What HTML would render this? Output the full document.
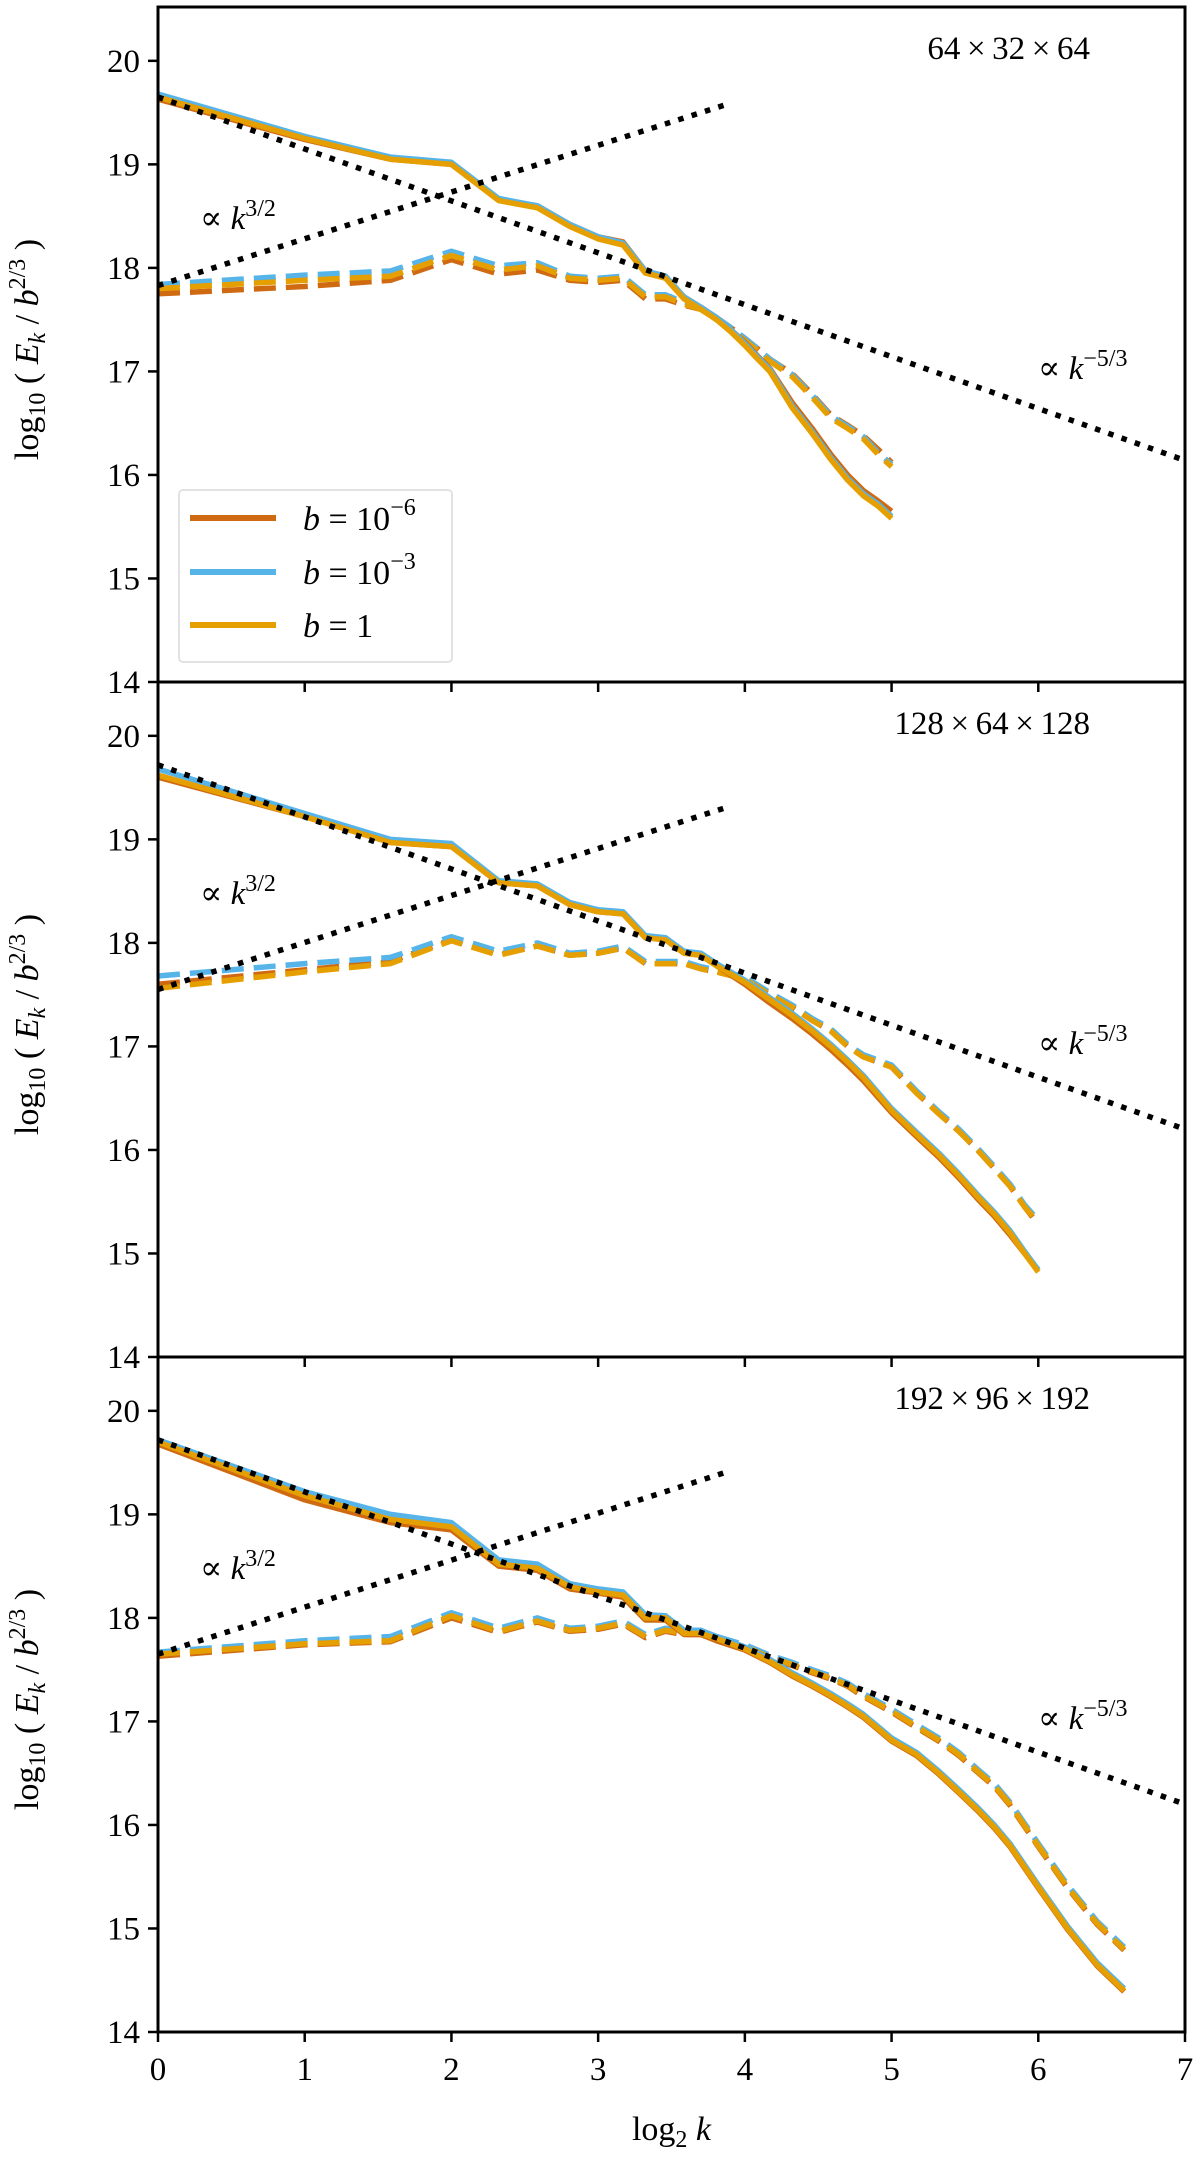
<!DOCTYPE html>
<html><head><meta charset="utf-8"><style>
html,body{margin:0;padding:0;background:#fff;}
svg{display:block;font-family:"Liberation Serif","DejaVu Serif",serif;}
</style></head><body>
<svg id="chart" width="1200" height="2160" viewBox="0 0 1200 2160" xmlns="http://www.w3.org/2000/svg">
<g id="root"></g>
</svg>
<script>
const NS='http://www.w3.org/2000/svg';
// ---- data ----
const panelTitles=['64\u2009\u00d7\u200932\u2009\u00d7\u200964','128\u2009\u00d7\u200964\u2009\u00d7\u2009128','192\u2009\u00d7\u200996\u2009\u00d7\u2009192'];
const xTicks=[0,1,2,3,4,5,6,7];
const yTicks=[14,15,16,17,18,19,20];
const legendLabels=['10\u207b\u2076','10\u207b\u00b3','1'];
// panel 1
const x1=[0,1,1.585,2,2.322,2.585,2.807,3,3.17,3.322,3.459,3.585,3.7,3.807,3.907,4,4.087,4.17,4.322,4.459,4.585,4.7,4.807,4.907,5];
const s1_o=[19.65,19.25,19.05,19.0,18.65,18.58,18.4,18.28,18.22,17.95,17.9,17.7,17.6,17.5,17.38,17.25,17.12,17.0,16.65,16.4,16.15,15.95,15.8,15.7,15.58];
const s1_b=[19.68,19.27,19.07,19.02,18.67,18.6,18.42,18.3,18.24,17.97,17.92,17.72,17.62,17.52,17.4,17.27,17.14,17.02,16.67,16.42,16.17,15.97,15.82,15.72,15.6];
const s1_r=[19.63,19.24,19.05,19.0,18.66,18.6,18.42,18.3,18.25,17.97,17.92,17.72,17.62,17.52,17.4,17.28,17.15,17.03,16.7,16.45,16.2,16.0,15.85,15.75,15.65];
const d1_o=[17.8,17.88,17.92,18.12,17.98,18.02,17.9,17.88,17.9,17.72,17.72,17.65,17.6,17.5,17.4,17.3,17.2,17.1,16.95,16.75,16.55,16.45,16.35,16.2,16.08];
const d1_b=[17.84,17.93,17.97,18.16,18.02,18.05,17.92,17.9,17.92,17.74,17.74,17.67,17.62,17.52,17.42,17.32,17.22,17.12,16.97,16.77,16.57,16.47,16.37,16.22,16.1];
const d1_r=[17.75,17.82,17.88,18.08,17.94,17.98,17.88,17.86,17.88,17.7,17.7,17.64,17.6,17.52,17.42,17.32,17.22,17.12,16.98,16.78,16.58,16.48,16.38,16.25,16.12];
// panel 2
const x2=[0,1,1.585,2,2.322,2.585,2.807,3,3.17,3.322,3.459,3.585,3.7,3.807,4,4.17,4.322,4.459,4.585,4.7,4.807,5,5.17,5.322,5.459,5.585,5.7,5.807,5.907,6];
const s2_o=[19.62,19.22,18.97,18.93,18.58,18.55,18.37,18.3,18.28,18.05,18.03,17.9,17.88,17.78,17.62,17.45,17.3,17.15,17.0,16.85,16.7,16.38,16.15,15.95,15.75,15.55,15.38,15.2,15.0,14.82];
const s2_b=[19.68,19.25,19.0,18.96,18.6,18.57,18.39,18.32,18.3,18.07,18.05,17.92,17.9,17.8,17.64,17.47,17.32,17.17,17.02,16.87,16.72,16.4,16.17,15.97,15.77,15.57,15.4,15.22,15.02,14.84];
const s2_r=[19.6,19.22,18.97,18.93,18.58,18.55,18.37,18.3,18.28,18.05,18.03,17.9,17.88,17.78,17.6,17.42,17.27,17.12,16.97,16.82,16.67,16.36,16.13,15.93,15.73,15.53,15.36,15.18,15.0,14.84];
const d2_o=[17.56,17.72,17.8,18.02,17.88,17.97,17.88,17.9,17.95,17.8,17.8,17.8,17.75,17.72,17.65,17.5,17.38,17.25,17.15,17.0,16.9,16.8,16.55,16.35,16.18,16.0,15.82,15.65,15.45,15.3];
const d2_b=[17.68,17.8,17.86,18.06,17.92,18.0,17.9,17.92,17.97,17.82,17.82,17.82,17.77,17.74,17.67,17.52,17.4,17.27,17.17,17.02,16.92,16.82,16.57,16.37,16.2,16.02,15.84,15.67,15.47,15.32];
const d2_r=[17.6,17.74,17.82,18.03,17.89,17.97,17.88,17.9,17.95,17.8,17.8,17.8,17.75,17.72,17.65,17.5,17.38,17.25,17.15,17.0,16.9,16.8,16.55,16.35,16.18,16.0,15.82,15.65,15.45,15.28];
// panel 3
const x3=[0,1,1.585,2,2.322,2.585,2.807,3,3.17,3.322,3.459,3.585,3.7,3.807,4,4.17,4.322,4.459,4.585,4.7,4.807,5,5.17,5.322,5.459,5.585,5.7,5.807,6,6.2,6.4,6.585];
const s3_o=[19.7,19.18,18.95,18.88,18.52,18.48,18.3,18.25,18.22,18.0,18.0,17.85,17.85,17.8,17.7,17.58,17.45,17.35,17.25,17.15,17.05,16.82,16.68,16.5,16.32,16.15,15.98,15.8,15.4,15.0,14.65,14.4];
const s3_b=[19.72,19.22,19.0,18.92,18.56,18.52,18.33,18.28,18.25,18.03,18.02,17.88,17.88,17.82,17.72,17.6,17.47,17.37,17.27,17.17,17.07,16.84,16.7,16.52,16.34,16.17,16.0,15.82,15.42,15.02,14.67,14.42];
const s3_r=[19.68,19.14,18.92,18.85,18.5,18.46,18.28,18.24,18.2,17.98,17.98,17.84,17.84,17.78,17.69,17.57,17.44,17.34,17.24,17.14,17.04,16.81,16.67,16.49,16.31,16.14,15.97,15.79,15.39,14.99,14.64,14.39];
const d3_o=[17.65,17.75,17.78,18.02,17.87,17.97,17.88,17.9,17.95,17.82,17.88,17.85,17.85,17.8,17.72,17.62,17.55,17.48,17.42,17.35,17.25,17.1,16.95,16.82,16.68,16.52,16.38,16.2,15.8,15.4,15.05,14.8];
const d3_b=[17.67,17.78,17.82,18.05,17.9,18.0,17.9,17.92,17.97,17.84,17.9,17.87,17.87,17.82,17.74,17.64,17.57,17.5,17.44,17.37,17.27,17.12,16.97,16.84,16.7,16.54,16.4,16.22,15.82,15.42,15.07,14.82];
const d3_r=[17.63,17.74,17.77,18.0,17.86,17.96,17.87,17.89,17.94,17.81,17.87,17.84,17.84,17.79,17.71,17.61,17.54,17.47,17.41,17.34,17.24,17.09,16.94,16.81,16.67,16.51,16.37,16.19,15.79,15.39,15.04,14.79];
// reference slopes: [x0, y0, x1, y1]
const ref53=[[0,19.65,7,16.14],[0,19.72,7,16.2],[0,19.72,7,16.2]];
const ref32=[[0,17.83,3.9,19.59],[0,17.55,3.9,19.32],[0,17.65,3.9,19.42]];
const panels=[
 {x:x1,s:[s1_r,s1_b,s1_o],d:[d1_r,d1_b,d1_o]},
 {x:x2,s:[s2_r,s2_b,s2_o],d:[d2_r,d2_b,d2_o]},
 {x:x3,s:[s3_r,s3_b,s3_o],d:[d3_r,d3_b,d3_o]}
];
// ---- layout ----
const colors=['#cf6a12','#56b4e9','#e69f00'];
const X0=158,X1=1185,XMIN=0,XMAX=7;
const tops=[7,682,1357],H=675,YTOP=20.52,YBOT=14;
function sx(v){return X0+(v-XMIN)/(XMAX-XMIN)*(X1-X0);}
function syf(p){return v=>tops[p]+(YTOP-v)/(YTOP-YBOT)*H;}
const root=document.getElementById('root');
function el(tag,attrs,parent,text){const e=document.createElementNS(NS,tag);for(const k in attrs)e.setAttribute(k,attrs[k]);if(text!==undefined)e.textContent=text;(parent||root).appendChild(e);return e;}
const sNames=['b-1e-6','b-1e-3','b-1'];
panels.forEach((P,p)=>{
  const sy=syf(p);
  const g=el('g',{});
  
  
  const clip=el('clipPath',{id:'clip'+p},g);
  el('rect',{x:X0,y:tops[p],width:X1-X0,height:H},clip);
  const plot=el('g',{'clip-path':'url(#clip'+p+')'},g);
  P.d.forEach((arr,i)=>{
    const pts=P.x.map((xv,j)=>sx(xv).toFixed(1)+','+sy(arr[j]).toFixed(1)).join(' ');
    const l=el('polyline',{points:pts,fill:'none',stroke:colors[i],'stroke-width':5.5,'stroke-dasharray':'22 10','stroke-linejoin':'round'},plot);
    
    
  });
  P.s.forEach((arr,i)=>{
    const pts=P.x.map((xv,j)=>sx(xv).toFixed(1)+','+sy(arr[j]).toFixed(1)).join(' ');
    const l=el('polyline',{points:pts,fill:'none',stroke:colors[i],'stroke-width':5.5,'stroke-linejoin':'round'},plot);
    
    
  });
  [ref53[p],ref32[p]].forEach((r,i)=>{
    const l=el('line',{x1:sx(r[0]),y1:sy(r[1]),x2:sx(r[2]),y2:sy(r[3]),stroke:'#000','stroke-width':5.5,'stroke-dasharray':'5.5 8.5'},plot);
    
    
  });
  const fr=el('rect',{x:X0,y:tops[p],width:X1-X0,height:H,fill:'none',stroke:'#000','stroke-width':3},g);
  
  
  yTicks.forEach(t=>{
    const y=sy(t);
    el('line',{x1:X0-10,y1:y,x2:X0,y2:y,stroke:'#000','stroke-width':2.5},g);
    const tx=el('text',{x:X0-18,y:y+11,'text-anchor':'end','font-size':33},g,String(t));
    
    
  });
  xTicks.forEach(t=>{
    el('line',{x1:sx(t),y1:tops[p]+H,x2:sx(t),y2:tops[p]+H+10,stroke:'#000','stroke-width':2.5},g);
  });
  const ti=el('text',{x:1090,y:tops[p]+52,'text-anchor':'end','font-size':33},g,panelTitles[p]);
  
  
  const a1=el('text',{x:200,y:tops[p]+222,'font-size':33},g);
  a1.innerHTML='\u221d <tspan font-style="italic">k</tspan><tspan font-size="24" dy="-13">3/2</tspan>';
  
  
  const a2=el('text',{x:1038,y:tops[p]+372,'font-size':33},g);
  a2.innerHTML='\u221d <tspan font-style="italic">k</tspan><tspan font-size="24" dy="-13">\u22125/3</tspan>';
  
  
  const yl=el('text',{transform:'translate(38,'+(tops[p]+H/2+5)+') rotate(-90)','text-anchor':'middle','font-size':34},g);
  yl.innerHTML='log<tspan font-size="24" dy="7">10</tspan><tspan dy="-7"> ( </tspan><tspan font-style="italic">E</tspan><tspan font-size="24" dy="7" font-style="italic">k</tspan><tspan dy="-7"> / </tspan><tspan font-style="italic">b</tspan><tspan font-size="24" dy="-13">2/3</tspan><tspan dy="13"> )</tspan>';
  
  
});
xTicks.forEach(t=>{
  const tx=el('text',{x:sx(t),y:2080,'text-anchor':'middle','font-size':33},root,String(t));
  
  
});
const xl=el('text',{x:sx(3.5),y:2140,'text-anchor':'middle','font-size':34},root);
xl.innerHTML='log<tspan font-size="24" dy="7">2</tspan><tspan dy="-7"> </tspan><tspan font-style="italic">k</tspan>';


const lg=el('g',{});


el('rect',{x:179,y:490,width:273,height:172,rx:4,fill:'#fff','fill-opacity':0.85,stroke:'#e2e2e2','stroke-width':2},lg);
const ly=[518,572,625];
legendLabels.forEach((lab,i)=>{
  const e=el('g',{},lg);
  
  
  el('line',{x1:190,y1:ly[i],x2:276,y2:ly[i],stroke:colors[i],'stroke-width':6},e);
  const t=el('text',{x:303,y:ly[i]+12,'font-size':34},e);
  if(i<2) t.innerHTML='<tspan font-style="italic">b</tspan> = 10<tspan font-size="24" dy="-15">'+(i==0?'\u22126':'\u22123')+'</tspan>';
  else t.innerHTML='<tspan font-style="italic">b</tspan> = 1';
});
</script>
</body></html>
